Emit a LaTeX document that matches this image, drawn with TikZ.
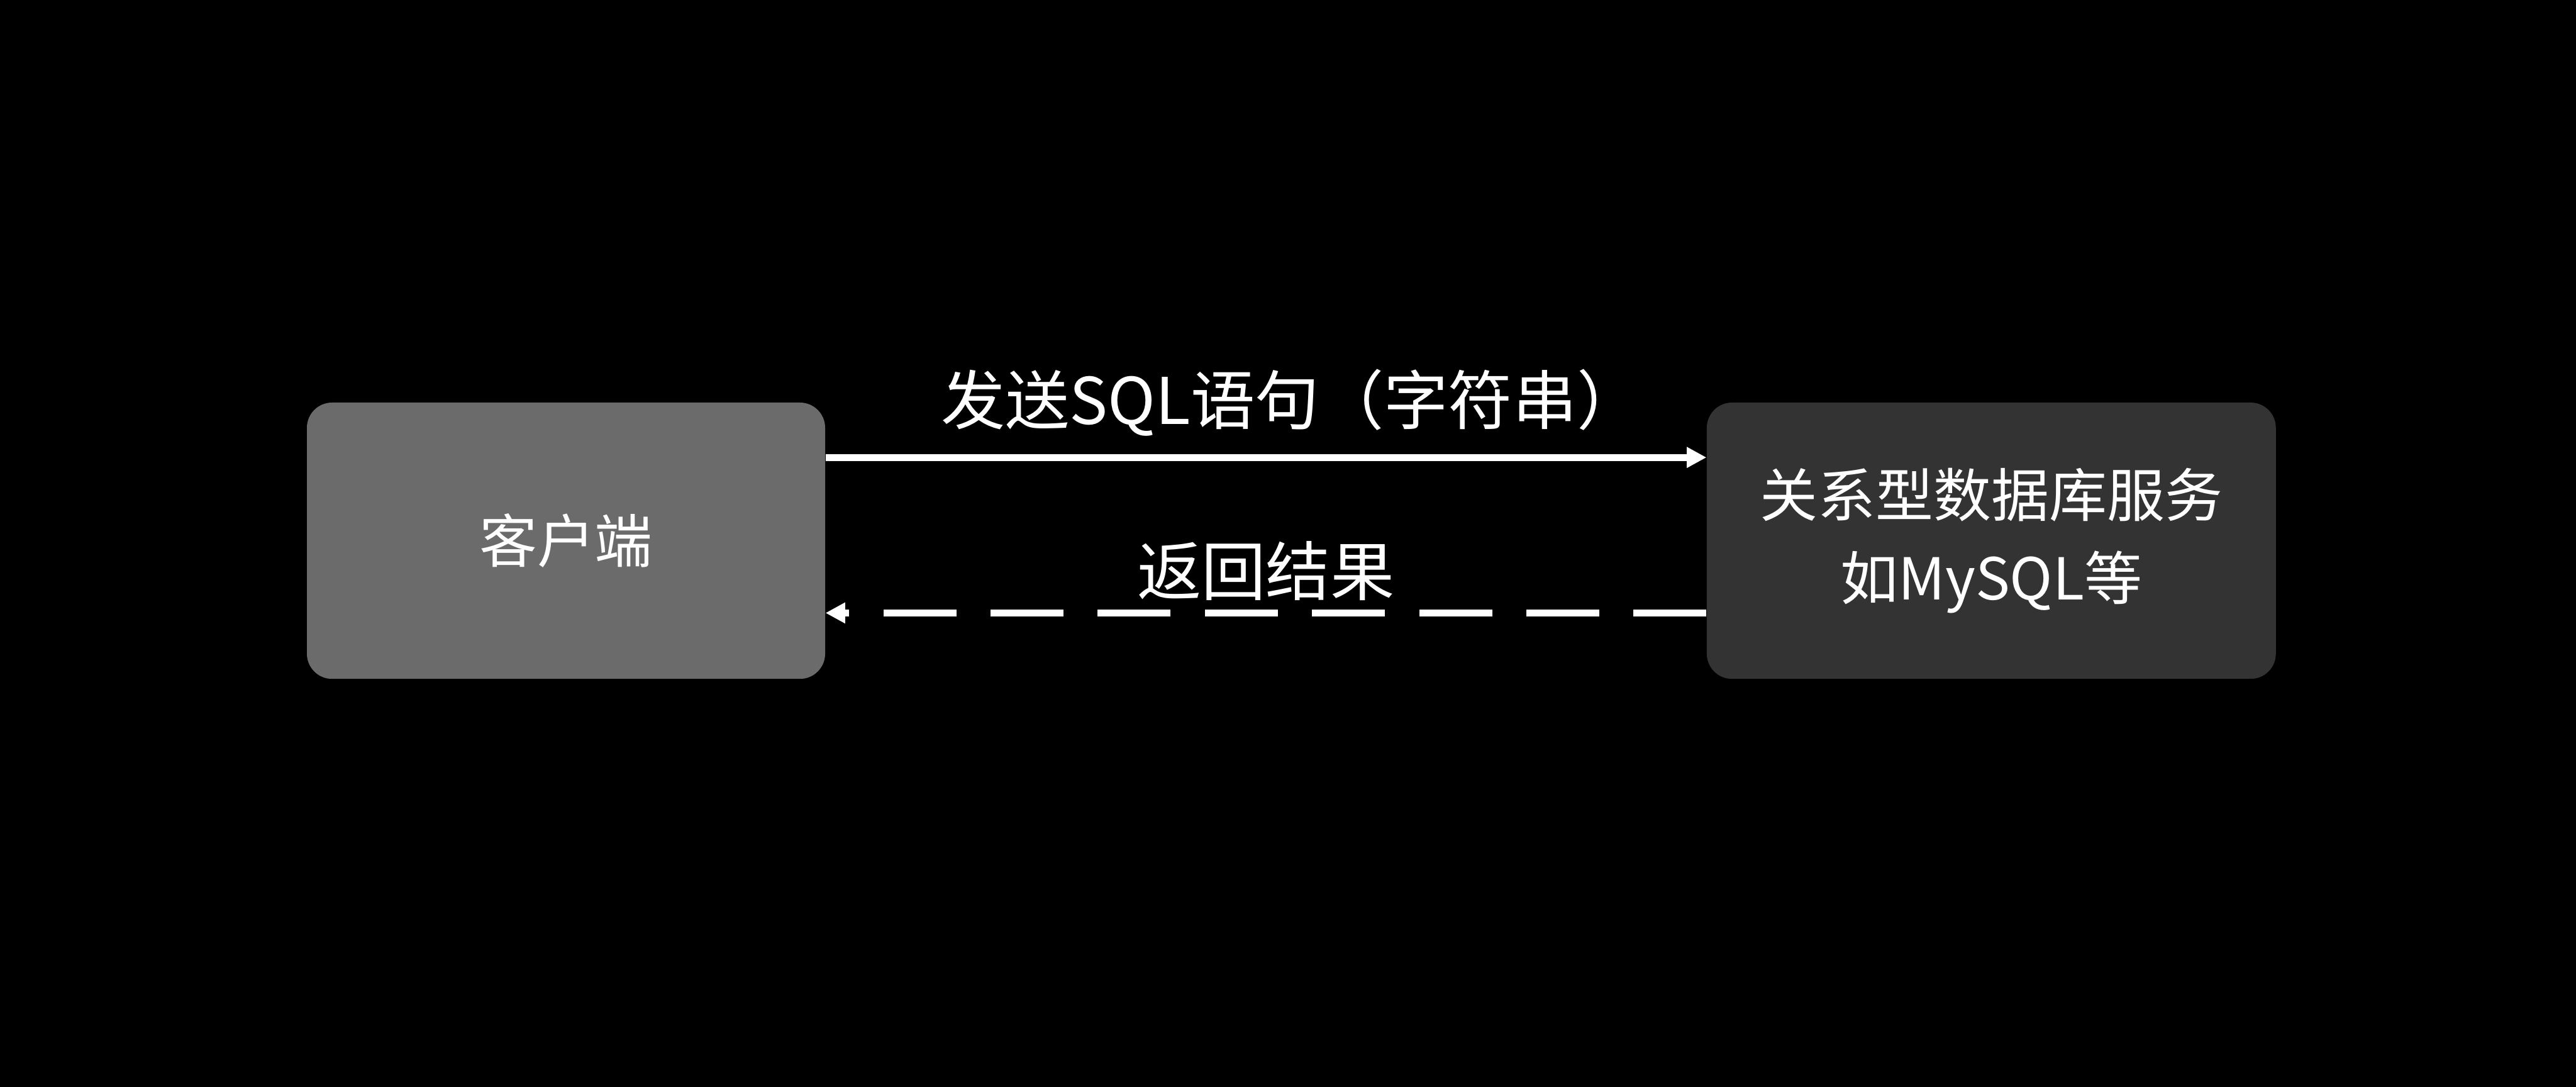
\documentclass[tikz,border=0pt]{standalone}
\usepackage{fontspec}
\setmainfont{Noto Sans CJK SC}
\usepackage{tikz}
\usetikzlibrary{arrows.meta, positioning}
\definecolor{clientgray}{RGB}{107, 107, 107}
\definecolor{servergray}{RGB}{51, 51, 51}

\begin{document}
\begin{tikzpicture}[node distance=17.51cm]
    \tikzstyle{box} = [rectangle, rounded corners=0.5cm, minimum height=5.49cm, inner sep=0pt, text=white, align=center, font=\fontsize{32.7pt}{46.7pt}\selectfont]
    \tikzstyle{msg} = [inner sep=0pt, text=white, font=\fontsize{36.4pt}{44pt}\selectfont]
    \tikzstyle{link} = [white, line width=0.136cm, -{Triangle[length=0.39cm, width=0.39cm]}]

    \fill [black] (0,0) rectangle (51.2,-21.6);

    \node (client) [box, fill=clientgray, minimum width=10.30cm] at (11.25,-10.745) {客户端};
    \node (server) [box, fill=servergray, minimum width=11.31cm, right=of client] {关系型数据库服务\\如MySQL等};

    \draw [link] ([yshift=1.655cm]client.east) -- ([yshift=1.655cm]server.west)
        node [msg, midway, xshift=0.5cm, yshift=1.09cm] {发送SQL语句（字符串）};
    \draw [link, dash pattern=on 1.45cm off 0.68cm] ([yshift=-1.435cm]server.west) -- ([yshift=-1.435cm]client.east)
        node [msg, midway, yshift=0.84cm] {返回结果};
\end{tikzpicture}
\end{document}
